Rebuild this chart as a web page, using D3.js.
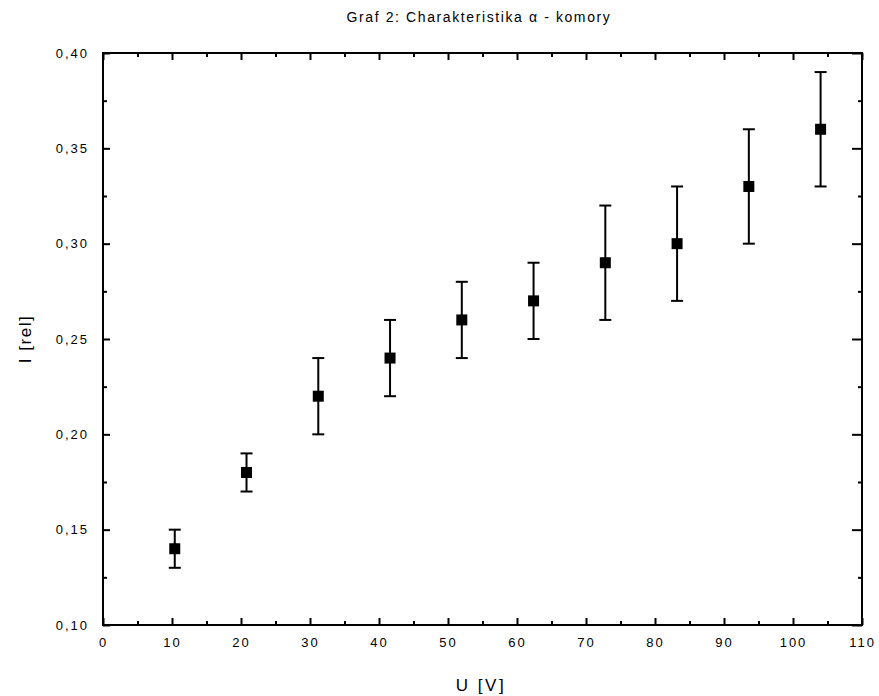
<!DOCTYPE html>
<html>
<head>
<meta charset="utf-8">
<script src="https://cdn.jsdelivr.net/npm/d3@7"></script>
<style>
  body { margin: 0; background: #fff; }
  text { font-family: "Liberation Sans", Arial, sans-serif; fill: #000; }
  .tick text { font-size: 13px; letter-spacing: 2px; }
</style>
</head>
<body>
<script>
// Graf 2: Charakteristika alfa - komory

// Data
var voltage = [10.4, 20.8, 31.2, 41.6, 52, 62.4, 72.8, 83.2, 93.6, 104];
var current = [0.14, 0.18, 0.22, 0.24, 0.26, 0.27, 0.29, 0.30, 0.33, 0.36];
var errLow  = [0.13, 0.17, 0.20, 0.22, 0.24, 0.25, 0.26, 0.27, 0.30, 0.33];
var errHigh = [0.15, 0.19, 0.24, 0.26, 0.28, 0.29, 0.32, 0.33, 0.36, 0.39];
var xTicks = [0, 10, 20, 30, 40, 50, 60, 70, 80, 90, 100, 110];
var yTicks = [0.10, 0.15, 0.20, 0.25, 0.30, 0.35, 0.40];
var xMinor = [5, 15, 25, 35, 45, 55, 65, 75, 85, 95, 105];
var yMinor = [0.125, 0.175, 0.225, 0.275, 0.325, 0.375];

var data = voltage.map(function(v, i) {
  return { u: v, i: current[i], lo: errLow[i], hi: errHigh[i] };
});

// Page dimensions
var margin = { top: 53, right: 17, bottom: 71, left: 103 },
  width = 879 - margin.left - margin.right,
  height = 696 - margin.top - margin.bottom;

var svg = d3.select("body").append("svg")
  .attr("width", 879)
  .attr("height", 696);

var chart = svg.append("g")
  .attr("transform", "translate(" + margin.left + "," + margin.top + ")");

// Scales
var x = d3.scaleLinear().domain([0, 110]).range([0, width]);
var y = d3.scaleLinear().domain([0.10, 0.40]).range([height, 0]);

var fmt = function(d) { return d3.format(".2f")(d).replace(".", ","); };

// Axes - major ticks point inwards, labels pushed outside
chart.append("g")
  .attr("class", "x axis")
  .attr("transform", "translate(0," + height + ")")
  .call(d3.axisBottom(x).tickValues(xTicks).tickSize(-7).tickPadding(13).tickFormat(d3.format("d")));

chart.append("g")
  .attr("class", "y axis")
  .call(d3.axisLeft(y).tickValues(yTicks).tickSize(-7).tickPadding(14).tickFormat(fmt));

chart.append("g")
  .call(d3.axisTop(x).tickValues(xTicks).tickSize(-7).tickFormat(""));

chart.append("g")
  .attr("transform", "translate(" + width + ",0)")
  .call(d3.axisRight(y).tickValues(yTicks).tickSize(-10).tickFormat(""));

// Minor ticks
chart.append("g")
  .attr("transform", "translate(0," + height + ")")
  .call(d3.axisBottom(x).tickValues(xMinor).tickSize(-4).tickFormat(""));
chart.append("g")
  .call(d3.axisTop(x).tickValues(xMinor).tickSize(-4).tickFormat(""));
chart.append("g")
  .call(d3.axisLeft(y).tickValues(yMinor).tickSize(-4).tickFormat(""));
chart.append("g")
  .attr("transform", "translate(" + width + ",0)")
  .call(d3.axisRight(y).tickValues(yMinor).tickSize(-4).tickFormat(""));

chart.selectAll(".domain").remove();
chart.selectAll(".tick line").attr("stroke", "#000").attr("stroke-width", 2);

// Frame
chart.append("rect")
  .attr("x", 0)
  .attr("y", 0)
  .attr("width", width)
  .attr("height", height)
  .attr("fill", "none")
  .attr("stroke", "#000")
  .attr("stroke-width", 2);

// Error bars
var err = chart.selectAll(".err")
  .data(data)
  .enter().append("g")
  .attr("class", "err")
  .attr("stroke", "#000")
  .attr("stroke-width", 2);

err.append("line")
  .attr("x1", function(d) { return x(d.u); })
  .attr("x2", function(d) { return x(d.u); })
  .attr("y1", function(d) { return y(d.lo); })
  .attr("y2", function(d) { return y(d.hi); });

err.append("line")
  .attr("x1", function(d) { return x(d.u) - 6; })
  .attr("x2", function(d) { return x(d.u) + 6; })
  .attr("y1", function(d) { return y(d.lo); })
  .attr("y2", function(d) { return y(d.lo); });

err.append("line")
  .attr("x1", function(d) { return x(d.u) - 6; })
  .attr("x2", function(d) { return x(d.u) + 6; })
  .attr("y1", function(d) { return y(d.hi); })
  .attr("y2", function(d) { return y(d.hi); });

// Square markers
chart.selectAll(".pt")
  .data(data)
  .enter().append("rect")
  .attr("class", "pt")
  .attr("x", function(d) { return x(d.u) - 5.5; })
  .attr("y", function(d) { return y(d.i) - 5.5; })
  .attr("width", 11)
  .attr("height", 11)
  .attr("fill", "#000");

// Title and axis labels
svg.append("text")
  .attr("x", 479)
  .attr("y", 22)
  .attr("text-anchor", "middle")
  .style("font-size", "14px")
  .style("letter-spacing", "1.6px")
  .text("Graf 2: Charakteristika \u03b1 - komory");

svg.append("text")
  .attr("x", 481)
  .attr("y", 691)
  .attr("text-anchor", "middle")
  .style("font-size", "17px")
  .style("letter-spacing", "2.5px")
  .text("U [V]");

svg.append("text")
  .attr("transform", "translate(31," + (margin.top + height / 2) + ") rotate(-90)")
  .attr("text-anchor", "middle")
  .style("font-size", "17px")
  .style("letter-spacing", "1.5px")
  .text("I [rel]");
</script>
</body>
</html>
